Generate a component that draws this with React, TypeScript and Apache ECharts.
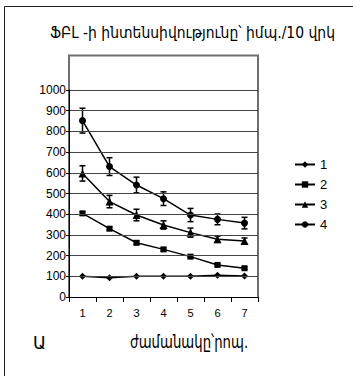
import React, { useEffect, useRef } from "react";
import * as echarts from "echarts";

const categories = ["1", "2", "3", "4", "5", "6", "7"];
const seriesNames = ["1", "2", "3", "4"];
const s1 = [100, 93, 100, 100, 100, 105, 102];
const s2 = [404, 330, 262, 230, 195, 155, 139];
const s3 = [597, 461, 396, 348, 311, 279, 270];
const s4 = [852, 630, 541, 475, 396, 375, 357];
const e1 = [0, 0, 0, 0, 0, 0, 0];
const e2 = [8, 8, 8, 8, 6, 6, 6];
const e3 = [37, 30, 28, 20, 22, 15, 15];
const e4 = [60, 43, 38, 33, 32, 26, 28];
const yTicks = { min: 0, max: 1000, interval: 100 };

const FONT = "Arial, 'Liberation Sans', 'DejaVu Sans', sans-serif";
const ARM = "'DejaVu Sans', Arial, sans-serif";

export default function App() {
  const ref = useRef<HTMLDivElement>(null);
  useEffect(() => {
    if (!ref.current) return;
    const chart = echarts.init(ref.current, undefined, { renderer: "svg" });
    const values = [s1, s2, s3, s4];
    const errs = [e1, e2, e3, e4];
    const symbols = ["diamond", "rect", "triangle", "circle"];
    const sizes = [7, 6, 8, 7];
    const errData: number[][] = [];
    values.forEach((vals, si) => {
      vals.forEach((v, i) => {
        if (errs[si][i] > 0) errData.push([i, v - errs[si][i], v + errs[si][i]]);
      });
    });
    const lineSeries = values.map((vals, si) => ({
      name: seriesNames[si],
      type: "line",
      data: vals,
      color: "#000",
      symbol: symbols[si],
      symbolSize: sizes[si],
      showAllSymbol: true,
      lineStyle: { color: "#000", width: 1.5 },
      itemStyle: { color: "#000" },
      z: 3,
    }));
    chart.setOption({
      animation: false,
      color: ["#000"],
      grid: { left: 69, top: 90, width: 189, height: 207 },
      legend: {
        data: seriesNames,
        orient: "vertical",
        left: 289,
        top: 153,
        itemWidth: 20,
        itemHeight: 8,
        itemGap: 7,
        textStyle: { fontFamily: FONT, fontSize: 13, color: "#000" },
      },
      xAxis: {
        type: "category",
        data: categories,
        boundaryGap: true,
        axisLine: { lineStyle: { color: "#000", width: 1 } },
        axisTick: { show: true, length: 5, lineStyle: { color: "#000" } },
        axisLabel: { color: "#000", fontFamily: FONT, fontSize: 11, margin: 10 },
        splitLine: { show: false },
        z: 5,
      },
      yAxis: {
        type: "value",
        min: yTicks.min,
        max: yTicks.max,
        interval: yTicks.interval,
        axisLine: { show: true, lineStyle: { color: "#000", width: 1 } },
        axisTick: { show: true, length: 3, lineStyle: { color: "#000" } },
        axisLabel: {
          color: "#000",
          fontFamily: FONT,
          fontSize: 12,
          margin: 3,
          formatter: (v: number) => String(v),
        },
        splitLine: { show: true, lineStyle: { color: "#444", width: 1 } },
        z: 5,
      },
      series: [
        ...lineSeries,
        {
          type: "custom",
          name: "err",
          data: errData,
          z: 4,
          renderItem: (params: any, api: any) => {
            const x = api.value(0);
            const lo = api.coord([x, api.value(1)]);
            const hi = api.coord([x, api.value(2)]);
            const w = 3;
            const st = { stroke: "#000", lineWidth: 1.5 };
            return {
              type: "group",
              children: [
                { type: "line", shape: { x1: lo[0], y1: lo[1], x2: hi[0], y2: hi[1] }, style: st },
                { type: "line", shape: { x1: lo[0] - w, y1: lo[1], x2: lo[0] + w, y2: lo[1] }, style: st },
                { type: "line", shape: { x1: hi[0] - w, y1: hi[1], x2: hi[0] + w, y2: hi[1] }, style: st },
              ],
            };
          },
        },
      ],
      graphic: {
        elements: [
          {
            id: "frame",
            type: "polyline",
            shape: { points: [[4.5, 400], [4.5, 6.5], [400, 6.5]] },
            style: { fill: null, stroke: "#222", lineWidth: 1 },
            z: 0,
          },
          {
            id: "title",
            type: "text",
            x: 50,
            y: 25,
            scaleX: 0.93,
            style: {
              text: "ՖԲԼ -ի ինտենսիվությունը՝ իմպ./10 վրկ",
              fontFamily: ARM,
              fontSize: 15,
              fill: "#000",
            },
            z: 1,
          },
          {
            id: "plotframe",
            type: "polyline",
            shape: { points: [[69, 297], [69, 55.5], [258, 55.5], [258, 297]] },
            style: { fill: null, stroke: "#6e6e6e", lineWidth: 2 },
            z: 3,
          },
          {
            id: "labA",
            type: "text",
            x: 33,
            y: 334,
            style: { text: "Ա", fontFamily: ARM, fontSize: 17, fill: "#000" },
          },
          {
            id: "labT",
            type: "text",
            x: 130,
            y: 334,
            scaleX: 0.78,
            style: { text: "ժամանակը՝րոպ.", fontFamily: ARM, fontSize: 17, fill: "#000" },
          },
        ],
      },
    });
    return () => chart.dispose();
  }, []);
  return (
    <div
      ref={ref}
      style={{ position: "fixed", left: 0, top: 0, width: 353, height: 376, background: "#fff" }}
    />
  );
}
